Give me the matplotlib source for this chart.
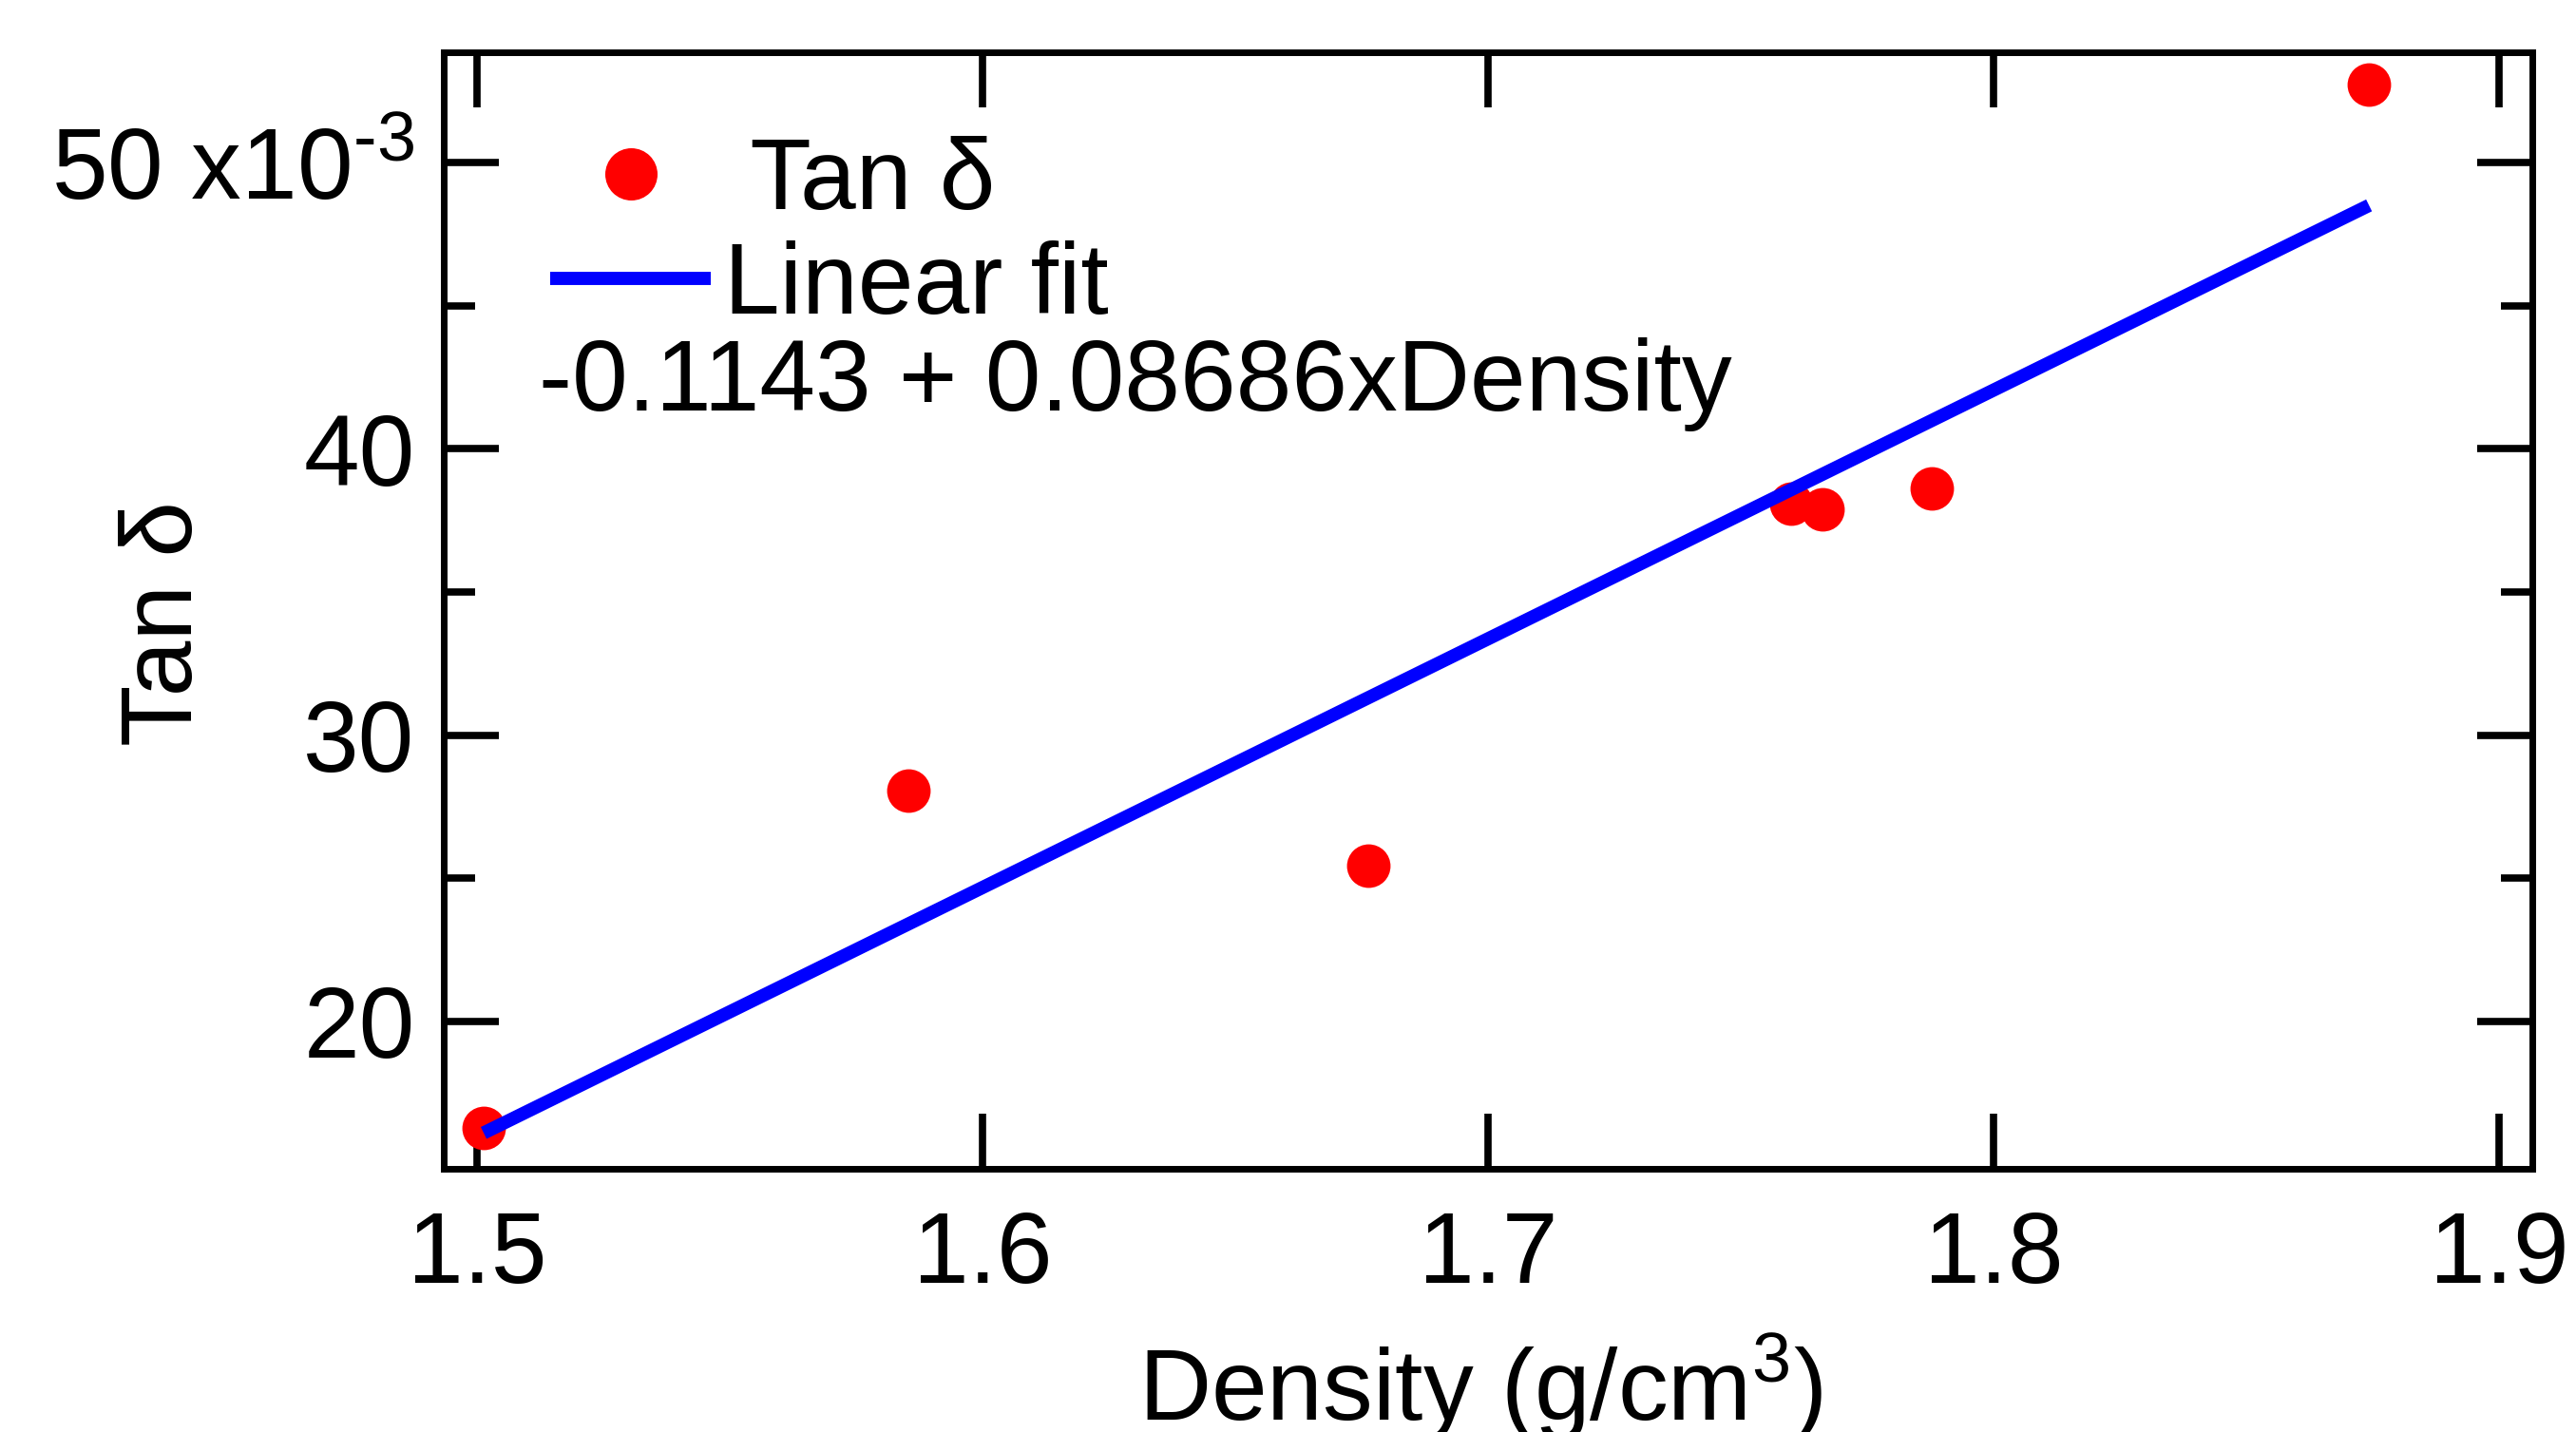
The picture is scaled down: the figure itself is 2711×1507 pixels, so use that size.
import matplotlib
matplotlib.use("Agg")
import matplotlib.pyplot as plt
import numpy as np
from matplotlib.ticker import FixedLocator, NullLocator

# Density (g/cm3) and tan delta (x 1e-3)
density = [1.5013, 1.5853, 1.6763, 1.7600, 1.7662, 1.7878, 1.8743]
tan_delta = [16.28, 28.07, 25.45, 38.07, 37.88, 38.63, 52.72]

# Linear fit as printed on the chart
fit_intercept = -0.1143
fit_slope = 0.08686

x_ticks = [1.5, 1.6, 1.7, 1.8, 1.9]
x_ticklabels = ["1.5", "1.6", "1.7", "1.8", "1.9"]
y_ticks = [20, 30, 40, 50]
y_ticklabels = ["20", "30", "40", r"50 x10$^{\text{-}3}$"]
y_minor = [25, 35, 45]

plt.rcParams["font.family"] = ["Liberation Sans", "DejaVu Sans"]
plt.rcParams["mathtext.fontset"] = "custom"
plt.rcParams["mathtext.rm"] = "Liberation Sans"
plt.rcParams["mathtext.it"] = "Liberation Sans:italic"
plt.rcParams["mathtext.bf"] = "Liberation Sans:bold"
plt.rcParams["mathtext.default"] = "regular"

fs = 76

fig = plt.figure(figsize=(27.11, 15.07), dpi=100)
ax = fig.add_axes([0.1723, 0.1838, 0.8107, 0.7797])

# Data points, then the fit line on top
ax.plot(density, tan_delta, "o", ms=33, color="#ff0000", mec="none",
        label=" Tan \u03b4", zorder=2)
fit_x = np.array([density[0], density[-1]])
fit_y = (fit_intercept + fit_slope * fit_x) * 1e3
ax.plot(fit_x, fit_y, "-", lw=10, color="#0000ff", solid_capstyle="butt",
        label="Linear fit", zorder=3)

ax.set_xlim(1.49342, 1.90658)
ax.set_ylim(14.85, 53.85)

ax.xaxis.set_major_locator(FixedLocator(x_ticks))
ax.set_xticklabels(x_ticklabels)
ax.xaxis.set_minor_locator(NullLocator())
ax.yaxis.set_major_locator(FixedLocator(y_ticks))
ax.set_yticklabels(y_ticklabels)
ax.yaxis.set_minor_locator(FixedLocator(y_minor))

ax.tick_params(axis="both", which="both", direction="in", top=True, right=True,
               width=5.5, color="black", labelsize=fs)
ax.tick_params(axis="both", which="major", length=42)
ax.tick_params(axis="y", which="minor", length=24)
ax.tick_params(axis="x", which="major", pad=31)
ax.tick_params(axis="y", which="major", pad=22)

for sp in ax.spines.values():
    sp.set_linewidth(5)

ax.set_xlabel(r"Density (g/cm$^{3}$)", fontsize=fs)
ax.xaxis.set_label_coords(0.4964, -0.146)
ax.set_ylabel("Tan \u03b4", fontsize=fs)
ax.yaxis.set_label_coords(-0.1106, 0.4885)

ax.legend(loc="upper left", bbox_to_anchor=(0.051, 0.925), frameon=False,
          fontsize=fs, borderpad=0, borderaxespad=0, handlelength=1.6,
          handletextpad=0.13, labelspacing=0.1, markerscale=1.2)

ax.text(0.0455, 0.679, "-0.1143 + 0.08686xDensity", transform=ax.transAxes,
        fontsize=fs, ha="left", va="baseline")

fig.savefig("out.png", dpi=100)
